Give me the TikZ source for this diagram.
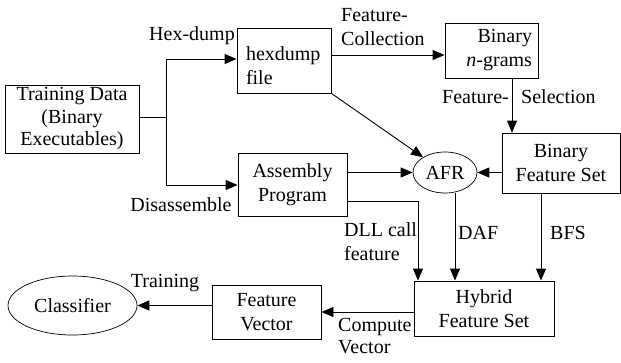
\documentclass[tikz,border=0pt]{standalone}
\usepackage{fontspec}
\newfontfamily\serifface{Liberation Serif}
\usetikzlibrary{arrows.meta,shapes.geometric}
\begin{document}
\serifface
\begin{tikzpicture}[x=1pt,y=-1pt,
  every node/.style={inner sep=0pt, execute at begin node={\serifface\fontsize{20}{24}\selectfont}},
  box/.style={draw, line width=0.9pt, rectangle, align=center},
  oval/.style={draw, ellipse, line width=0.7pt, inner sep=0pt},
  tight/.style={execute at begin node={\serifface\fontsize{20}{22.5}\selectfont}},
  link/.style={line width=0.9pt},
  arr/.style={link, -{Triangle[length=12pt,width=10pt]}},
  lbl/.style={inner sep=0pt}]
\useasboundingbox (0,0) rectangle (621,362);

% processing stages
\node[box, tight, minimum width=134pt, minimum height=68pt] (train) at (72,119) {Training Data\\(Binary\\Executables)};
\node[box, minimum width=94pt, minimum height=65pt, align=left, text width=76pt, text depth=13pt] (hex) at (284,60.5) {hexdump\\file};
\node[box, minimum width=109pt, minimum height=63pt] (asm) at (292.5,184.5) {Assembly\\Program};
\node[box, minimum width=93pt, minimum height=55pt, align=right, text width=81pt] (ngram) at (491.5,50.5) {Binary\\\textit{n}-grams};
\node[box, minimum width=118pt, minimum height=60pt] (bfs) at (561,163) {Binary\\Feature Set};
\node[oval, minimum width=64pt, minimum height=41pt] (afr) at (445,172.5) {AFR};
\node[box, minimum width=140pt, minimum height=55pt] (hyb) at (484,308.5) {Hybrid\\Feature Set};
\node[box, minimum width=109pt, minimum height=54pt] (fv) at (266.5,312) {Feature\\Vector};
\node[oval, minimum width=129pt, minimum height=59pt] (cls) at (72.5,305.5) {Classifier};

% routing points
\coordinate (jm) at (166,117);
\coordinate (jt) at (166,59);
\coordinate (jb) at (166,185);
\coordinate (fc) at (331,55);
\coordinate (fs) at (512,0);
\coordinate (dll) at (418,201);
\coordinate (daf) at (455,0);
\coordinate (bx) at (541,0);

% connectors
\draw[link] (train.east |- jm) -- (jm);
\draw[link] (jt) -- (jb);
\draw[arr] (jt) -- (jt -| hex.west);
\draw[arr] (jb) -- (jb -| asm.west);
\draw[arr] (hex.east |- fc) -- (ngram.west |- fc);
\draw[arr] (ngram.south -| fs) -- (bfs.north -| fs);
\draw[arr] (bfs.west |- afr) -- (afr.east);
\draw[arr] (asm.east |- afr) -- (afr.west);
\draw[arr] (hex.south east) -- (afr);
\draw[arr] (asm.east |- dll) -- (dll) -- (dll |- hyb.north);
\draw[arr] (afr.south -| daf) -- (hyb.north -| daf);
\draw[arr] (bfs.south -| bx) -- (hyb.north -| bx);
\draw[arr] (hyb.west |- fv.east) -- (fv.east);
\draw[arr] (fv.west |- cls.east) -- (cls.east);

% connector labels
\node[lbl] (lhex) at (192,36) {Hex-dump};
\node[lbl] (ldis) at (181,205) {Disassemble};
\node[lbl, anchor=west, align=left] (lcol) at (341,27.5) {Feature-\\Collection};
\node[lbl, anchor=east] (lsel1) at (509,97) {Feature-};
\node[lbl, anchor=west] (lsel2) at (521,97) {Selection};
\node[lbl, anchor=west, align=left] (ldll) at (344,241.5) {DLL call\\feature};
\node[lbl, anchor=west] (ldaf) at (458,233) {DAF};
\node[lbl, anchor=west] (lbfs) at (550,233) {BFS};
\node[lbl, tight, anchor=west, align=left] (lcv) at (338,336) {Compute\\Vector};
\node[lbl] (ltr) at (165,283) {Training};
\end{tikzpicture}
\end{document}
